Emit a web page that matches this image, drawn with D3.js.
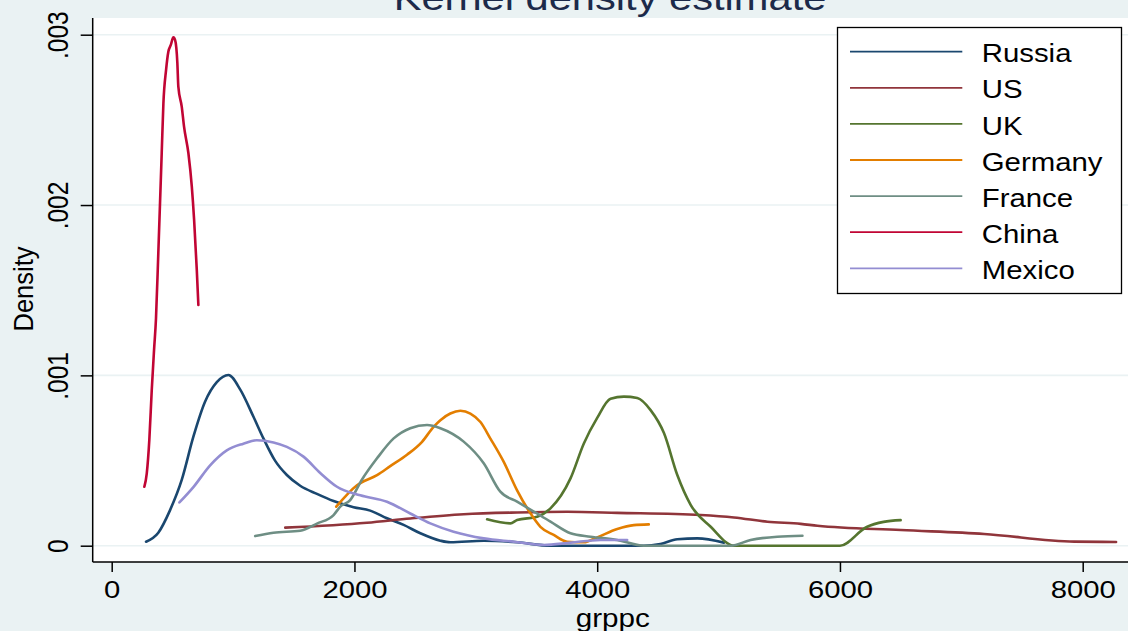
<!DOCTYPE html>
<html>
<head>
<meta charset="utf-8">
<script src="https://cdn.jsdelivr.net/npm/d3@7"></script>
<style>
  html, body { margin: 0; padding: 0; background: #eaf2f3; }
  svg { display: block; }
  text { font-family: "Liberation Sans", Arial, Helvetica, sans-serif; }
</style>
</head>
<body>
<svg id="chart" width="1128" height="631"></svg>
<script>
// Kernel density estimates of grppc by country
const countries = ["Russia", "US", "UK", "Germany", "France", "China", "Mexico"];
const colors = ["#1a476f", "#90353b", "#55752f", "#e37e00", "#6e8e84", "#c10534", "#938dd2"];

const xTicks = [0, 2000, 4000, 6000, 8000];
const yTicks = [0, 0.001, 0.002, 0.003];
const yTickLabels = ["0", ".001", ".002", ".003"];

const russiaX = [283, 384, 481, 577, 673, 769, 866, 962, 1058, 1168, 1250, 1347, 1443, 1553, 1691, 1828, 1993, 2130, 2268, 2405, 2543, 2708, 2790, 3065, 3340, 3615, 4384, 4520, 4660, 4825, 5044];
const russiaD = [0.0000235, 0.0000763, 0.000209, 0.000386, 0.00064, 0.000845, 0.00096, 0.001002, 0.000918, 0.000757, 0.00063, 0.000498, 0.000415, 0.000352, 0.000304, 0.000262, 0.000226, 0.000206, 0.000161, 0.000122, 0.0000728, 0.0000294, 0.00002, 0.000029, 0.00002, 0, 0, 0.00001, 0.0000376, 0.000043, 0.000018];

const usX = [1430, 2103, 2460, 2900, 3340, 3753, 4165, 4852, 5127, 5402, 5677, 5814, 6502, 7188, 7931, 8275];
const usD = [0.000106, 0.000135, 0.00016, 0.000185, 0.000195, 0.000199, 0.000193, 0.00018, 0.000166, 0.000141, 0.000128, 0.000117, 0.000092, 0.000069, 0.000024, 0.000022];

const ukX = [3093, 3285, 3340, 3505, 3615, 3780, 3890, 4000, 4110, 4220, 4330, 4440, 4550, 4660, 4770, 4935, 5127, 6000, 6220, 6360, 6500];
const ukD = [0.000155, 0.000131, 0.000151, 0.00017, 0.000219, 0.000395, 0.0006, 0.00075, 0.000863, 0.000875, 0.000867, 0.000796, 0.000661, 0.000415, 0.00024, 0.000111, 0, 0, 0.00011, 0.00014, 0.00015];

const germanyX = [1850, 2021, 2186, 2295, 2433, 2557, 2652, 2708, 2790, 2873, 2955, 3038, 3120, 3230, 3340, 3450, 3532, 3642, 3753, 3890, 4000, 4165, 4302, 4425];
const germanyD = [0.000229, 0.000355, 0.000414, 0.000467, 0.000534, 0.00061, 0.000698, 0.000737, 0.000776, 0.000792, 0.000776, 0.000726, 0.000629, 0.000492, 0.000325, 0.00019, 0.000111, 0.000063, 0.000023, 0.00002, 0.000049, 0.000098, 0.000121, 0.000125];

const franceX = [1182, 1333, 1553, 1691, 1828, 1883, 1965, 2060, 2186, 2323, 2460, 2598, 2708, 2900, 3065, 3202, 3340, 3478, 3615, 3780, 3945, 4165, 4384, 5099, 5264, 5484, 5691];
const franceD = [0.0000564, 0.0000763, 0.000088, 0.00013, 0.00018, 0.000229, 0.000268, 0.000386, 0.000513, 0.00063, 0.00069, 0.000709, 0.00069, 0.000611, 0.000484, 0.000317, 0.000259, 0.0002, 0.000141, 0.000073, 0.000053, 0.000034, 0, 0, 0.0000335, 0.000053, 0.0000587];

const chinaX = [269, 289, 310, 330, 349, 365, 384, 412, 426, 448, 467, 487, 508, 522, 541, 549, 577, 596, 632, 660, 679, 701, 714];
const chinaD = [0.000346, 0.000425, 0.000621, 0.000914, 0.00115, 0.001335, 0.001717, 0.002304, 0.002598, 0.002793, 0.002901, 0.00294, 0.002985, 0.00297, 0.002833, 0.002695, 0.002578, 0.00246, 0.002304, 0.002108, 0.001913, 0.001619, 0.001413];

const mexicoX = [558, 673, 811, 948, 1085, 1196, 1333, 1443, 1580, 1718, 1856, 2048, 2268, 2460, 2625, 2817, 3065, 3312, 3560, 3780, 4028, 4247];
const mexicoD = [0.000254, 0.000344, 0.000472, 0.00056, 0.000599, 0.000619, 0.000606, 0.00058, 0.000523, 0.000427, 0.000346, 0.000296, 0.000258, 0.000189, 0.000131, 0.0000822, 0.000043, 0.0000235, 0.000004, 0.000018, 0.0000335, 0.0000335];

const seriesX = [russiaX, usX, ukX, germanyX, franceX, chinaX, mexicoX];
const seriesD = [russiaD, usD, ukD, germanyD, franceD, chinaD, mexicoD];

const W = 1128, H = 631;
const svg = d3.select("#chart");

// Plot region
const plot = { left: 92.7, top: 18, right: W, bottom: 562 };
const x = d3.scaleLinear().domain([0, 8000]).range([111.7, 1082.7]);
const y = d3.scaleLinear().domain([0, 0.003]).range([545.7, 34.7]);

svg.append("rect").attr("width", W).attr("height", H).attr("fill", "#eaf2f3");
svg.append("rect")
  .attr("x", plot.left).attr("y", plot.top)
  .attr("width", plot.right - plot.left).attr("height", plot.bottom - plot.top)
  .attr("fill", "#ffffff");

// Horizontal grid lines
svg.append("g").selectAll("line").data(yTicks).join("line")
  .attr("x1", plot.left).attr("x2", plot.right)
  .attr("y1", d => y(d)).attr("y2", d => y(d))
  .attr("stroke", "#eaf2f3").attr("stroke-width", 1.6);

// Density curves
const line = d3.line()
  .x(d => x(d[0]))
  .y(d => y(d[1]))
  .curve(d3.curveMonotoneX);

const curves = svg.append("g");
countries.forEach((c, i) => {
  const pts = seriesX[i].map((v, j) => [v, seriesD[i][j]]);
  curves.append("path")
    .datum(pts)
    .attr("d", line)
    .attr("fill", "none")
    .attr("stroke", colors[i])
    .attr("stroke-width", 2.6)
    .attr("stroke-linejoin", "round")
    .attr("stroke-linecap", "round");
});

// Axes
const xAxis = svg.append("g")
  .attr("transform", `translate(0,${plot.bottom})`)
  .call(d3.axisBottom(x).tickValues(xTicks).tickSize(10).tickFormat(d3.format("d")));
xAxis.select(".domain").remove();
xAxis.selectAll(".tick line").attr("stroke", "#000").attr("stroke-width", 1.5);
xAxis.selectAll(".tick text")
  .attr("y", 36).attr("dy", null)
  .attr("font-size", 24).attr("fill", "#000")
  .attr("font-family", "Liberation Sans, Arial, sans-serif")
  .attr("transform", "scale(1.22,1)");

const yAxis = svg.append("g")
  .attr("transform", `translate(${plot.left},0)`)
  .call(d3.axisLeft(y).tickValues(yTicks).tickSize(12).tickFormat((d, i) => yTickLabels[i]));
yAxis.select(".domain").remove();
yAxis.selectAll(".tick line").attr("stroke", "#000").attr("stroke-width", 1.5);
yAxis.selectAll(".tick text")
  .attr("x", 0).attr("y", 0).attr("dy", null)
  .attr("text-anchor", "middle")
  .attr("font-size", 24.5).attr("fill", "#000")
  .attr("font-family", "Liberation Sans, Arial, sans-serif")
  .attr("transform", "translate(-24.4,0) scale(1.22,1) rotate(-90)");

// Axis lines
svg.append("line")
  .attr("x1", plot.left).attr("x2", plot.left)
  .attr("y1", plot.top).attr("y2", plot.bottom)
  .attr("stroke", "#000").attr("stroke-width", 1.5);
svg.append("line")
  .attr("x1", plot.left).attr("x2", plot.right)
  .attr("y1", plot.bottom).attr("y2", plot.bottom)
  .attr("stroke", "#000").attr("stroke-width", 1.5);

// Axis titles
svg.append("text")
  .attr("transform", "translate(612.8,626.5) scale(1.14,1)")
  .attr("text-anchor", "middle")
  .attr("font-size", 26).attr("fill", "#000")
  .text("grppc");
svg.append("text")
  .attr("transform", "translate(33.3,289) scale(1.1,1) rotate(-90)")
  .attr("text-anchor", "middle")
  .attr("font-size", 25.5).attr("fill", "#000")
  .text("Density");

// Title
svg.append("text")
  .attr("transform", "translate(610,9.5) scale(1.19,1)")
  .attr("text-anchor", "middle")
  .attr("font-size", 35).attr("fill", "#1c2a4a")
  .text("Kernel density estimate");

// Legend
const legend = svg.append("g");
legend.append("rect")
  .attr("x", 837.5).attr("y", 27.5)
  .attr("width", 284).attr("height", 266)
  .attr("fill", "#ffffff").attr("stroke", "#000").attr("stroke-width", 1.3);
const rows = legend.selectAll("g.row").data(countries).join("g")
  .attr("class", "row")
  .attr("transform", (d, i) => `translate(0,${51.7 + i * 36.1})`);
rows.append("line")
  .attr("x1", 850).attr("x2", 962.3)
  .attr("y1", 0).attr("y2", 0)
  .attr("stroke", (d, i) => colors[i]).attr("stroke-width", 1.8);
rows.append("text")
  .attr("transform", "translate(981.7,10.6) scale(1.13,1)")
  .attr("font-size", 26).attr("fill", "#000")
  .text(d => d);
</script>
</body>
</html>
